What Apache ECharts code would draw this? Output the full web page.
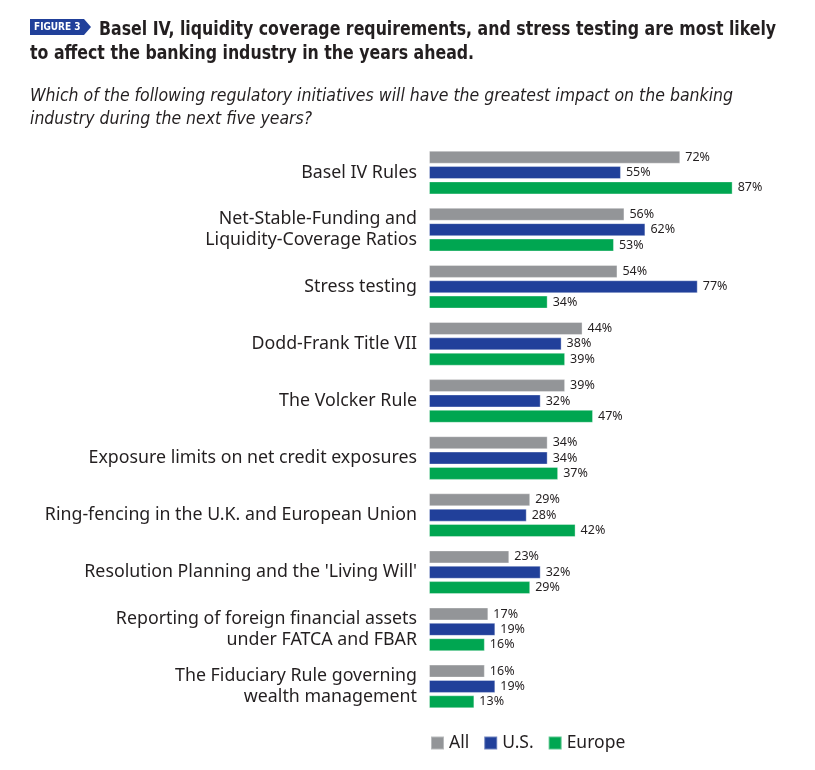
<!DOCTYPE html>
<html><head><meta charset="utf-8">
<script src="https://cdn.jsdelivr.net/npm/echarts@6/dist/echarts.min.js"></script>
<style>html,body{margin:0;padding:0;background:#fff}#c{width:815px;height:770px}</style>
</head><body><div id="c"></div>
<script>
const categories = [
  "Basel IV Rules",
  "Net-Stable-Funding and\nLiquidity-Coverage Ratios",
  "Stress testing",
  "Dodd-Frank Title VII",
  "The Volcker Rule",
  "Exposure limits on net credit exposures",
  "Ring-fencing in the U.K. and European Union",
  "Resolution Planning and the 'Living Will'",
  "Reporting of foreign financial assets\nunder FATCA and FBAR",
  "The Fiduciary Rule governing\nwealth management"
];
const seriesNames = ["All", "U.S.", "Europe"];
const allValues = [72, 56, 54, 44, 39, 34, 29, 23, 17, 16];
const usValues = [55, 62, 77, 38, 32, 34, 28, 32, 19, 19];
const europeValues = [87, 53, 34, 39, 47, 37, 42, 29, 16, 13];
const colors = ["#939598", "#21409a", "#00a651"];

const chart = echarts.init(document.getElementById('c'));
const mk = (name, data, color) => ({
  name, type: 'bar', data, barWidth: 13, barGap: '18%',
  itemStyle: { color, borderColor: 'rgba(255,255,255,0.35)', borderWidth: 1 },
  label: { show: true, position: 'right', distance: 5, formatter: '{c}%',
    color: '#231f20', fontSize: 12.5, fontFamily: 'Noto Sans' }
});
chart.setOption({
  animation: false,
  grid: { left: 429, top: 144, width: 349, height: 571, containLabel: false },
  xAxis: { type: 'value', min: 0, max: 100, show: false },
  yAxis: { type: 'category', data: categories, inverse: true,
    axisLine: { show: false }, axisTick: { show: false },
    axisLabel: { margin: 12, color: '#231f20', fontSize: 17.8, fontFamily: 'Noto Sans', lineHeight: 21, align: 'right' } },
  legend: { top: 729, left: 425, itemWidth: 13, itemHeight: 13, itemGap: 14,
    icon: 'rect', textStyle: { fontSize: 17.5, color: '#231f20', fontFamily: 'Noto Sans' },
    data: seriesNames },
  series: [mk(seriesNames[0], allValues, colors[0]), mk(seriesNames[1], usValues, colors[1]), mk(seriesNames[2], europeValues, colors[2])],
  graphic: [
    { type: 'polygon', shape: { points: [[30,19],[84,19],[91,27],[84,35],[30,35]] }, style: { fill: '#21409a' } },
    { type: 'text', x: 34, y: 21.5, scaleX: 0.95, style: { text: 'FIGURE 3', fill: '#fff', font: 'bold 10.5px "DejaVu Sans Condensed"' } },
    { type: 'text', x: 99, y: 20, scaleX: 0.877, style: { text: 'Basel IV, liquidity coverage requirements, and stress testing are most likely', fill: '#231f20', font: 'bold 20px "DejaVu Sans Condensed"' } },
    { type: 'text', x: 30, y: 44, scaleX: 0.877, style: { text: 'to affect the banking industry in the years ahead.', fill: '#231f20', font: 'bold 20px "DejaVu Sans Condensed"' } },
    { type: 'text', x: 30, y: 87, style: { text: 'Which of the following regulatory initiatives will have the greatest impact on the banking', fill: '#231f20', font: 'italic 17.5px "DejaVu Sans Condensed"' } },
    { type: 'text', x: 30, y: 110, style: { text: 'industry during the next five years?', fill: '#231f20', font: 'italic 17.5px "DejaVu Sans Condensed"' } }
  ]
});
</script></body></html>
